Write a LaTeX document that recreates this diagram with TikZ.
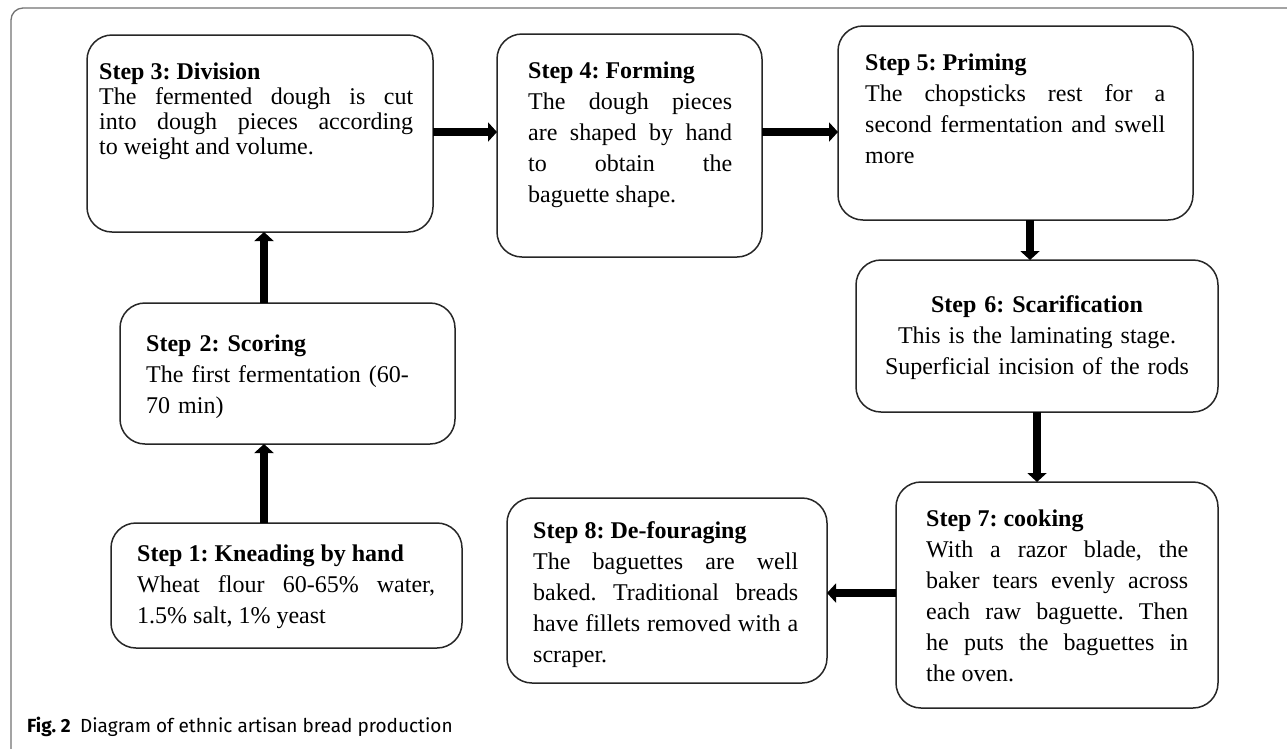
\documentclass[tikz,border=0pt]{standalone}
\usepackage{fontspec}
\setmainfont{Liberation Serif}
\newfontfamily\capfont{Fira Sans}
\usetikzlibrary{arrows.meta}
\setlength{\parindent}{0pt}
\hbadness=10000
\hyphenpenalty=10000
\frenchspacing
\newcommand\topstrut{\rule{0pt}{20pt}}
\begin{document}
\begin{tikzpicture}[x=1pt,y=-1pt,
  stepbox/.style={draw=black!85, line width=1.5pt, rounded corners=25pt, fill=white, inner sep=0pt, outer sep=0pt},
  steptext/.style={anchor=north west, inner sep=0pt, align=justify, font=\fontsize{24}{31}\selectfont},
  conn/.style={line width=8pt, -{Triangle[width=19pt,length=9pt]}}
]
\clip (0,0) rectangle (1287,748);
\fill[white] (0,0) rectangle (1287,748);
% outer frame
\draw[black!55, line width=1.3pt, rounded corners=12pt] (11,8) rectangle (1320,780);

% boxes
\node[stepbox, minimum width=346pt, minimum height=197pt] (s3) at (260,133.5) {};
\node[stepbox, minimum width=265pt, minimum height=223pt] (s4) at (629.5,145.5) {};
\node[stepbox, minimum width=355pt, minimum height=194pt] (s5) at (1015.5,123) {};
\node[stepbox, minimum width=362pt, minimum height=152pt] (s6) at (1037,336) {};
\node[stepbox, minimum width=322pt, minimum height=226pt] (s7) at (1057,595) {};
\node[stepbox, minimum width=320pt, minimum height=185pt] (s8) at (667,590.5) {};
\node[stepbox, minimum width=335pt, minimum height=141pt] (s2) at (287.5,373.5) {};
\node[stepbox, minimum width=351pt, minimum height=125pt] (s1) at (286.5,585.5) {};

% texts
\node[steptext, text width=314pt, font=\fontsize{24}{25}\selectfont] (t3) at (99,59)
  {\topstrut\textbf{Step 3: Division}\\The fermented dough is cut\linebreak into dough pieces according\linebreak to weight and volume.};
\node[steptext, text width=204pt] (t4) at (528,58)
  {\topstrut\textbf{Step 4: Forming}\\The dough pieces\linebreak are shaped by hand\linebreak to obtain the\linebreak baguette shape.};
\node[steptext, text width=300pt] (t5) at (865,50)
  {\topstrut\textbf{Step 5: Priming}\\The chopsticks rest for a\linebreak second fermentation and swell\linebreak more};
\node[steptext, anchor=north, text width=345pt, align=center] (t6) at (1037,292)
  {\topstrut\textbf{Step 6: Scarification}\\This is the laminating stage.\\Superficial incision of the rods};
\node[steptext, text width=262pt] (t7) at (926,506)
  {\topstrut\textbf{Step 7: cooking}\\With a razor blade, the\linebreak baker tears evenly across\linebreak each raw baguette. Then\linebreak he puts the baguettes in\linebreak the oven.};
\node[steptext, text width=265pt] (t8) at (533,518)
  {\topstrut\textbf{Step 8: De-fouraging}\\The baguettes are well\linebreak baked. Traditional breads\linebreak have fillets removed with a\linebreak scraper.};
\node[steptext, text width=290pt, align=left] (t2) at (146,331)
  {\topstrut\textbf{Step 2: Scoring}\\The first fermentation (60-\\70 min)};
\node[steptext, text width=298pt] (t1) at (137,541)
  {\topstrut\textbf{Step 1: Kneading by hand}\\Wheat flour 60-65\% water,\linebreak 1.5\% salt, 1\% yeast};

% connectors
\coordinate (colA) at (264,0);
\coordinate (colB) at (1030,0);
\coordinate (colC) at (1037,0);
\coordinate (rowA) at (0,132);
\coordinate (rowB) at (0,593);
\draw[conn] (s1.north -| colA) -- (s2.south -| colA);
\draw[conn] (s2.north -| colA) -- (s3.south -| colA);
\draw[conn] (s3.east |- rowA) -- (s4.west |- rowA);
\draw[conn] (s4.east |- rowA) -- (s5.west |- rowA);
\draw[conn] (s5.south -| colB) -- (s6.north -| colB);
\draw[conn] (s6.south -| colC) -- (s7.north -| colC);
\draw[conn] (s7.west |- rowB) -- (s8.east |- rowB);

% caption
\node[anchor=base west, inner sep=0pt, font=\capfont\fontsize{19}{21}\selectfont] (cap) at (27,732)
  {\textbf{Fig. 2}\hspace{0.5em}Diagram of ethnic artisan bread production};
\end{tikzpicture}
\end{document}
